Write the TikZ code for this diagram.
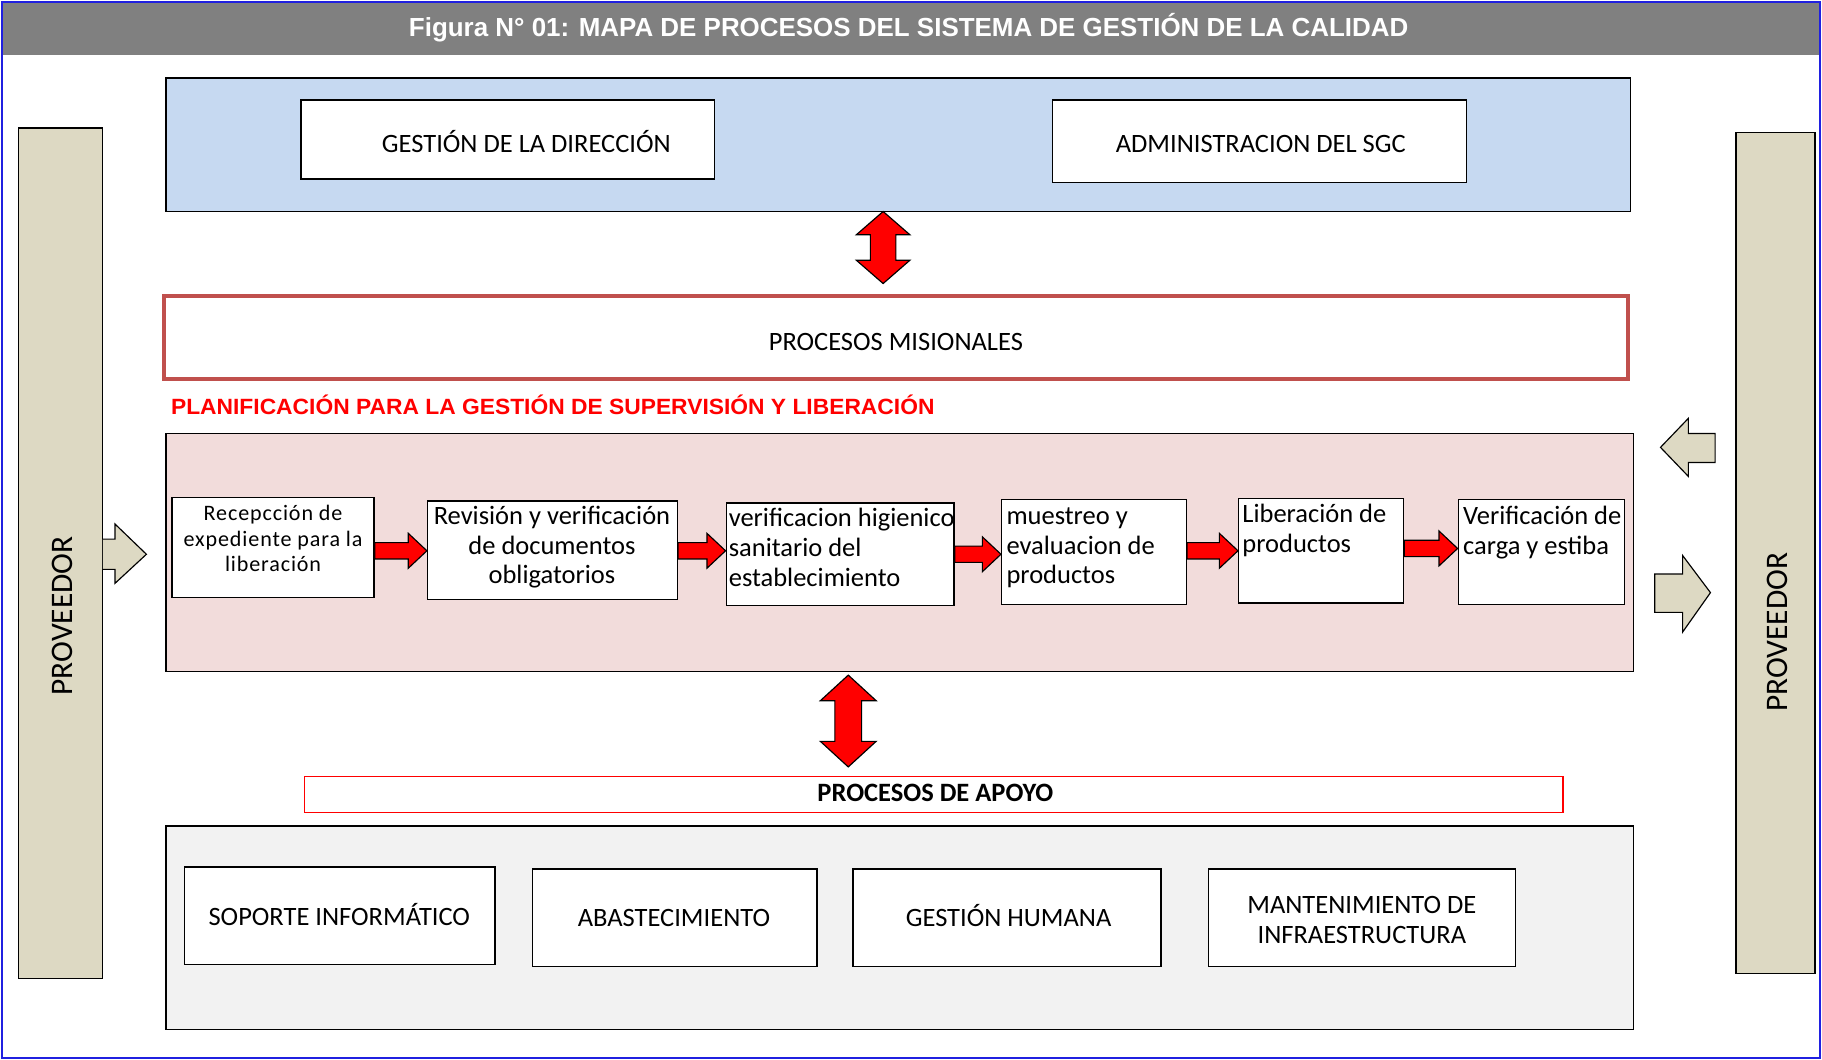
\documentclass[tikz,border=0pt]{standalone}
\usepackage{fontspec}
\usepackage{graphicx}
\setmainfont{Carlito}
\newfontfamily\arialfont{Liberation Sans}
\usetikzlibrary{calc}
\definecolor{titlegray}{HTML}{808080}
\definecolor{topblue}{HTML}{C6D9F1}
\definecolor{pinkbg}{HTML}{F2DCDB}
\definecolor{graybg}{HTML}{F2F2F2}
\definecolor{beige}{HTML}{DDD9C3}
\definecolor{misred}{HTML}{C0504D}
\definecolor{framblue}{HTML}{2020E0}
\newcommand{\redarr}[3]{%
  \filldraw[redfill] (#1.east |- 0,#3-7) -- ($(#2.west |- 0,#3-7)+(-16,0)$) -- ($(#2.west |- 0,#3-15)+(-16,0)$) -- (#2.west |- 0,#3) -- ($(#2.west |- 0,#3+15)+(-16,0)$) -- ($(#2.west |- 0,#3+7)+(-16,0)$) -- (#1.east |- 0,#3+7) -- cycle;}
\newcommand{\vdarrow}[6]{% cx, ytop, ybot, headlen, halfshaft, halfhead
  \filldraw[redfill] (#1,#2) -- (#1+#6,#2+#4) -- (#1+#5,#2+#4) -- (#1+#5,#3-#4) -- (#1+#6,#3-#4) -- (#1,#3) -- (#1-#6,#3-#4) -- (#1-#5,#3-#4) -- (#1-#5,#2+#4) -- (#1-#6,#2+#4) -- cycle;}
\begin{document}
\begin{tikzpicture}[x=1pt,y=-1pt,
  box/.style={draw=black, line width=1.2pt, fill=white, inner sep=0pt},
  bigbox/.style={draw=black, line width=1.2pt, inner sep=0pt},
  redfill/.style={fill=red, draw=black, line width=1pt, line join=miter},
  beigearrow/.style={fill=beige, draw=black, line width=1pt, line join=miter},
  lbl/.style={inner sep=0pt, anchor=base, font=\fontsize{22.8}{26}\selectfont},
  proc/.style={inner sep=0pt, font=\fontsize{22.8}{25.5}\selectfont, align=left, anchor=west},
  vtext/.style={inner sep=0pt, rotate=90, font=\fontsize{27}{30}\selectfont}]
\useasboundingbox (0,0) rectangle (1568,912);
\fill[white] (0,0) rectangle (1568,912);
% title bar
\fill[titlegray] (3,3) rectangle (1565,47);
\draw[framblue, line width=1.5pt] (1.5,1.5) rectangle (1566.5,910.5);
\node[text=white, inner sep=0pt] (title) at (782,24) {\resizebox{860pt}{\height}{\arialfont\bfseries\fontsize{22.5}{26}\selectfont Figura N° 01: MAPA DE PROCESOS DEL SISTEMA DE GESTIÓN DE LA CALIDAD}};
% side bars
\node[bigbox, fill=beige, minimum width=72pt, minimum height=732pt] (provL) at (52,476) {};
\node[vtext] (provLt) at (54,530) {PROVEEDOR};
\node[bigbox, fill=beige, minimum width=68pt, minimum height=724pt] (provR) at (1528,476) {};
\node[vtext] (provRt) at (1530,544) {PROVEEDOR};
% top block
\node[bigbox, fill=topblue, minimum width=1260pt, minimum height=115pt] (top) at (773,124.5) {};
\node[box, minimum width=356pt, minimum height=68pt] (gd) at (437,120) {};
\node[lbl] (gdt) at (453,131.5) {GESTIÓN DE LA DIRECCIÓN};
\node[box, minimum width=356pt, minimum height=71pt] (adm) at (1084,121.5) {};
\node[lbl] (admt) at (1085,131.5) {ADMINISTRACION DEL SGC};
% double arrow top
\vdarrow{760}{182}{244}{20}{11}{23}
% misionales
\node[draw=misred, line width=3.5pt, fill=white, minimum width=1260pt, minimum height=71pt, inner sep=0pt] (mis) at (771,290.5) {};
\node[lbl] (mist) at (771,301.5) {PROCESOS MISIONALES};
\node[inner sep=0pt, anchor=west, text=red] (plan) at (147,348.5) {\resizebox{657pt}{\height}{\arialfont\bfseries\fontsize{19}{22}\selectfont PLANIFICACIÓN PARA LA GESTIÓN DE SUPERVISIÓN Y LIBERACIÓN}};
% pink block
\node[bigbox, fill=pinkbg, minimum width=1263pt, minimum height=205pt] (pink) at (774.5,475.5) {};
\node[box, minimum width=174pt, minimum height=86pt] (b1) at (235,471) {};
\node[inner sep=0pt, align=center, font=\fontsize{19}{22}\selectfont\addfontfeatures{LetterSpace=4}] (b1t) at (235,463.5) {Recepcción de\\expediente para la\\liberación};
\node[box, minimum width=215pt, minimum height=85pt] (b2) at (475.5,473.5) {};
\node[proc, align=center, anchor=center] (b2t) at (475,471) {Revisión y verificación\\de documentos\\obligatorios};
\node[box, minimum width=196pt, minimum height=88pt] (b3) at (723,477) {};
\node[proc] (b3t) at (627,471) {verificacion higienico\\sanitario del\\establecimiento};
\node[box, minimum width=159pt, minimum height=90pt] (b4) at (941.5,475) {};
\node[proc] (b4t) at (866,471.5) {muestreo y\\evaluacion de\\productos};
\node[box, minimum width=142pt, minimum height=90pt] (b5) at (1137,474) {};
\node[proc] (b5t) at (1069,456.5) {Liberación de\\productos};
\node[box, minimum width=143pt, minimum height=90pt] (b6) at (1326.5,475) {};
\node[proc] (b6t) at (1259,458.5) {Verificación de\\carga y estiba};
\redarr{b1}{b2}{474}
\redarr{b2}{b3}{474}
\redarr{b3}{b4}{477}
\redarr{b4}{b5}{474}
\redarr{b5}{b6}{472}
% beige arrows
\filldraw[beigearrow] (provL.east |- 0,464) -- (99,464) -- (99,451) -- (126,477) -- (99,502) -- (99,490) -- (provL.east |- 0,490);
\filldraw[beigearrow] (1429,385) -- (1453,360) -- (1453,373) -- (1476,373) -- (1476,398) -- (1453,398) -- (1453,410) -- cycle;
\filldraw[beigearrow] (1424,494) -- (1448,494) -- (1448,478) -- (1472,510) -- (1448,544) -- (1448,527) -- (1424,527) -- cycle;
% lower double arrow
\vdarrow{730}{581}{660}{22}{11.5}{24}
% apoyo
\node[draw=red, line width=1.2pt, fill=white, minimum width=1083pt, minimum height=31pt, inner sep=0pt] (apoyo) at (803.5,683.5) {};
\node[lbl, font=\fontsize{22.8}{26}\selectfont\bfseries] (apoyot) at (805,689.5) {PROCESOS DE APOYO};
\node[bigbox, fill=graybg, minimum width=1263pt, minimum height=175pt] (gray) at (774.5,798.5) {};
\node[box, minimum width=267pt, minimum height=84pt] (s1) at (292.5,788) {};
\node[lbl] (s1t) at (292,796.5) {SOPORTE INFORMÁTICO};
\node[box, minimum width=245pt, minimum height=84pt] (s2) at (580.5,790) {};
\node[lbl] (s2t) at (580,797.5) {ABASTECIMIENTO};
\node[box, minimum width=265pt, minimum height=84pt] (s3) at (866.5,790) {};
\node[lbl] (s3t) at (868,797.5) {GESTIÓN HUMANA};
\node[box, minimum width=264pt, minimum height=84pt] (s4) at (1172,790) {};
\node[proc, align=center, anchor=center] (s4t) at (1172,792) {MANTENIMIENTO DE\\INFRAESTRUCTURA};
\end{tikzpicture}
\end{document}
